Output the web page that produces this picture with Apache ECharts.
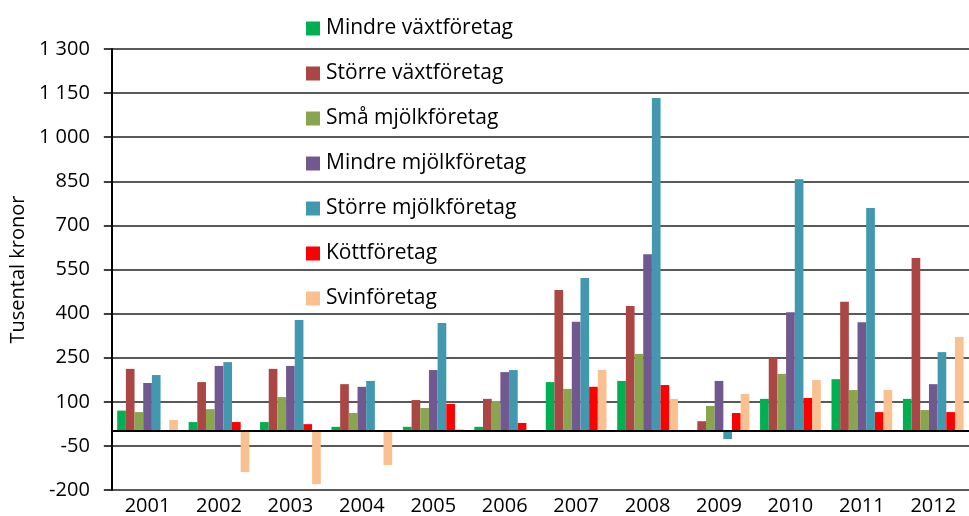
<!DOCTYPE html>
<html>
<head>
<meta charset="utf-8">
<script src="https://cdn.jsdelivr.net/npm/echarts@6/dist/echarts.min.js"></script>
<style>
  html, body { margin: 0; padding: 0; background: #fff; }
  #chart { width: 969px; height: 516px; }
</style>
</head>
<body>
<div id="chart"></div>
<script>
var years = ['2001', '2002', '2003', '2004', '2005', '2006', '2007', '2008', '2009', '2010', '2011', '2012'];

var mindreVaxt  = [70, 31, 31, 15, 15, 15, 167, 171, 4, 110, 177, 110];
var storreVaxt  = [212, 167, 212, 160, 106, 110, 480, 426, 34, 250, 440, 589];
var smaMjolk    = [65, 75, 116, 62, 79, 103, 144, 263, 86, 195, 140, 72];
var mindreMjolk = [164, 222, 222, 151, 208, 201, 372, 602, 171, 405, 371, 160];
var storreMjolk = [191, 235, 378, 171, 368, 208, 521, 1133, -27, 857, 759, 269];
var kott        = [0, 31, 24, 0, 93, 28, 151, 157, 62, 113, 65, 65];
var svin        = [38, -139, -180, -115, 7, 0, 208, 110, 127, 174, 140, 320];

var seriesDefs = [
  { name: 'Mindre växtföretag', data: mindreVaxt, color: '#00B050' },
  { name: 'Större växtföretag', data: storreVaxt, color: '#AA4643' },
  { name: 'Små mjölkföretag', data: smaMjolk, color: '#89A54E' },
  { name: 'Mindre mjölkföretag', data: mindreMjolk, color: '#71588F' },
  { name: 'Större mjölkföretag', data: storreMjolk, color: '#4198AF' },
  { name: 'Köttföretag', data: kott, color: '#FF0000' },
  { name: 'Svinföretag', data: svin, color: '#FAC090' }
];

var font = 'Open Sans';
var chart = echarts.init(document.getElementById('chart'));

var series = seriesDefs.map(function (s, i) {
  var item = {
    name: s.name,
    type: 'bar',
    data: s.data,
    barGap: '0%',
    barCategoryGap: '15%',
    itemStyle: { color: s.color },
    z: 2
  };
  if (i === 0) {
    // zero line across the plot
    item.markLine = {
      silent: true,
      symbol: 'none',
      label: { show: false },
      lineStyle: { color: '#000', width: 2, type: 'solid' },
      data: [{ yAxis: 0 }],
      z: 5
    };
  }
  return item;
});

chart.setOption({
  animation: false,
  textStyle: { fontFamily: font },
  grid: { left: 109, right: 0, top: 49, bottom: 26, containLabel: false },
  legend: {
    orient: 'vertical',
    left: 301,
    top: 13,
    itemWidth: 14,
    itemHeight: 14,
    itemGap: 24,
    icon: 'rect',
    textStyle: { fontFamily: font, fontSize: 21, color: '#000', lineHeight: 20, padding: [0, 0, 0, 1] },
    data: seriesDefs.map(function (s) { return s.name; })
  },
  xAxis: {
    type: 'category',
    data: years,
    axisLine: { show: false, onZero: false },
    axisTick: { show: false },
    axisLabel: { fontFamily: font, fontSize: 20, color: '#000', margin: 6 },
    splitLine: { show: false }
  },
  yAxis: {
    type: 'value',
    min: -200,
    max: 1300,
    interval: 150,
    name: 'Tusental kronor',
    nameLocation: 'middle',
    nameGap: 76,
    nameTextStyle: { fontFamily: font, fontSize: 20, color: '#000' },
    axisLine: { show: true, lineStyle: { color: '#000', width: 2 } },
    axisTick: { show: true, length: 8, lineStyle: { color: '#000', width: 1.5 } },
    axisLabel: {
      fontFamily: font,
      fontSize: 20,
      color: '#000',
      margin: 22,
      formatter: function (v) {
        return String(v).replace(/\B(?=(\d{3})+(?!\d))/g, ' ');
      }
    },
    splitLine: { show: true, lineStyle: { color: '#222', width: 1.5 } }
  },
  series: series
});
</script>
</body>
</html>
